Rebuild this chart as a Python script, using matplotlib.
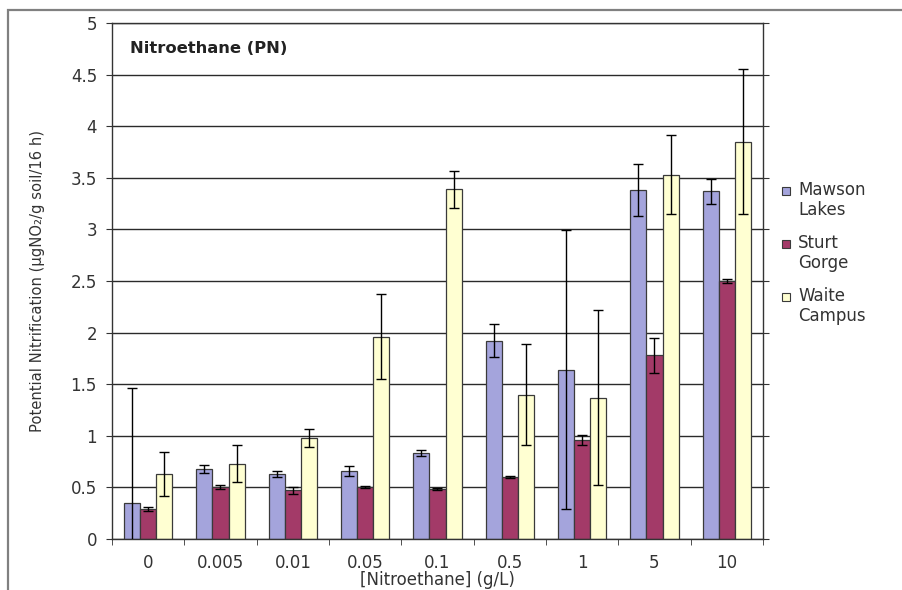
import numpy as np
import matplotlib.pyplot as plt
from matplotlib.patches import Rectangle

# nitroethane concentrations (g/L)
doses = ['0', '0.005', '0.01', '0.05', '0.1', '0.5', '1', '5', '10']

# potential nitrification per soil, with error
mawson = [0.35, 0.68, 0.63, 0.66, 0.83, 1.92, 1.64, 3.38, 3.37]
mawson_err = [1.11, 0.04, 0.03, 0.05, 0.03, 0.16, 1.35, 0.25, 0.12]
sturt = [0.29, 0.50, 0.47, 0.50, 0.48, 0.60, 0.96, 1.78, 2.50]
sturt_err = [0.02, 0.02, 0.03, 0.01, 0.01, 0.01, 0.05, 0.17, 0.02]
waite = [0.63, 0.73, 0.98, 1.96, 3.39, 1.40, 1.37, 3.53, 3.85]
waite_err = [0.21, 0.18, 0.09, 0.41, 0.18, 0.49, 0.85, 0.38, 0.70]

soils = ['Mawson\nLakes', 'Sturt\nGorge', 'Waite\nCampus']
cores = ['#A4A4DC', '#A33A68', '#FFFFD2']

plt.rcParams['font.family'] = ['DejaVu Sans']

W, H = 902, 590
fig = plt.figure(figsize=(W / 100, H / 100), dpi=100)
ax = fig.add_axes([112 / W, 51 / H, 651 / W, 516 / H])

x = np.arange(len(doses))
w = 0.223
series = [(mawson, mawson_err), (sturt, sturt_err), (waite, waite_err)]
for i, (vals, errs) in enumerate(series):
    pos = x + (i - 1) * w
    ax.bar(pos, vals, w, color=cores[i], edgecolor='#3a3a3a', linewidth=0.9, zorder=2)
    ax.errorbar(pos, vals, yerr=errs, fmt='none', ecolor='black',
                elinewidth=1.0, capsize=3.5, capthick=1.0, zorder=3)

ax.set_xlim(-0.5, len(doses) - 0.5)
ax.set_ylim(0, 5)
ax.set_yticks(np.arange(0, 5.01, 0.5))
ax.set_yticklabels(['0', '0.5', '1', '1.5', '2', '2.5', '3', '3.5', '4', '4.5', '5'])
ax.yaxis.grid(True, color='#2a2a2a', linewidth=1.0, zorder=0)
ax.set_axisbelow(True)

ax.set_xticks(x)
ax.set_xticklabels(doses)
ax.set_xticks(np.arange(-0.5, len(doses)), minor=True)
ax.tick_params(axis='x', which='major', length=0, pad=11, labelsize=12, colors='#333333')
ax.tick_params(axis='x', which='minor', length=4, direction='out', color='#333333')
ax.tick_params(axis='y', length=4.3, direction='out', pad=6.5, labelsize=12,
               colors='#333333', right=True)
for s in ax.spines.values():
    s.set_color('#333333')
    s.set_linewidth(1.0)

ax.text(0.027, 0.95, 'Nitroethane (PN)', transform=ax.transAxes, va='center',
        fontsize=11.8, fontweight='bold', color='#222222')

ax.set_ylabel('Potential Nitrification (µgNO\u2082/g soil/16 h)', fontsize=10.6, color='#333333')
ax.yaxis.set_label_coords(-0.103, 0.5)
fig.text(437 / W, 1 - 580 / H, '[Nitroethane] (g/L)', ha='center', va='center',
         fontsize=12, color='#333333')

# legend: small swatch next to the first line of each two-line label
for i, lab in enumerate(soils):
    yc = 1 - (191 + 53 * i) / H
    fig.patches.append(Rectangle((782 / W, yc - 4 / H), 8 / W, 8 / H,
                                 transform=fig.transFigure, facecolor=cores[i],
                                 edgecolor='#3a3a3a', linewidth=0.8))
    fig.text(798 / W, yc + 10 / H, lab, ha='left', va='top', fontsize=12,
             color='#333333', linespacing=1.15)

# outer chart border
fig.patches.append(Rectangle((8 / W, -0.1), 1.0, 1 - 10 / H + 0.1,
                             transform=fig.transFigure, fill=False,
                             edgecolor='#808080', linewidth=1.6))

fig.savefig('out.png', dpi=100)
